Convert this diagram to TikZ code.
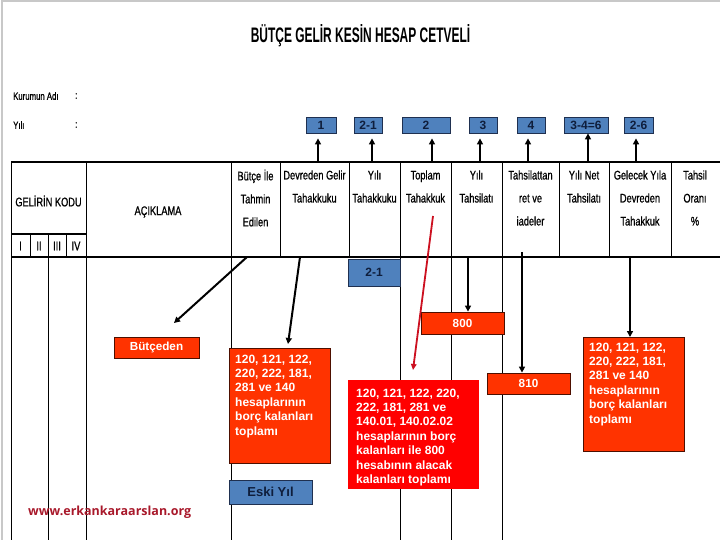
\documentclass[tikz,border=0pt]{standalone}
\usepackage{fontspec}
\setmainfont{Liberation Sans}
\newfontfamily\hdrfont[FakeStretch=0.74,FakeBold=0.8]{Liberation Sans}
\newfontfamily\ttlfont[FakeStretch=0.57]{Liberation Sans}
\newfontfamily\wmfont{Open Sans}
\usetikzlibrary{arrows.meta}
\definecolor{bluebox}{HTML}{4F81BD}
\definecolor{blueedge}{HTML}{1F3050}
\definecolor{orangebox}{HTML}{FF3300}
\definecolor{orangeedge}{HTML}{4D0F00}
\definecolor{redbox}{HTML}{FF0000}
\definecolor{navytext}{HTML}{0F1E3C}
\definecolor{wmred}{HTML}{A8182A}
\definecolor{arrred}{HTML}{CC1020}
\definecolor{framegray}{HTML}{C8C8C8}
\tikzset{
  hdr/.style={font=\hdrfont\fontsize{12.5}{23}\selectfont, align=center, inner sep=0pt},
  lbl/.style={font=\hdrfont\fontsize{10.5}{12}\selectfont, inner sep=0pt, anchor=west},
  bluetag/.style={draw=blueedge, fill=bluebox, line width=0.8pt, inner sep=0pt,
    font=\bfseries\fontsize{12}{14}\selectfont, text=navytext},
  orangetag/.style={draw=orangeedge, fill=orangebox, line width=0.8pt, inner sep=0pt,
    font=\bfseries\fontsize{11.7}{14}\selectfont, text=white},
  redpanel/.style={fill=redbox, inner sep=0pt},
  paneltext/.style={font=\bfseries\fontsize{12}{14.4}\selectfont, text=white, align=left,
    inner sep=0pt, anchor=north west},
  grid/.style={line width=0.9pt, black},
  thickgrid/.style={line width=1.8pt, black},
  arr/.style={line width=2pt, black, -{Triangle[length=6pt,width=6pt]}},
  redarr/.style={line width=1.8pt, arrred, -{Triangle[length=6pt,width=5.5pt]}}
}
\begin{document}
\begin{tikzpicture}[x=1pt,y=-1pt]
\useasboundingbox (0,0) rectangle (720,540);
% frame
\draw[framegray, line width=2pt] (1.5,540) -- (1.5,1) -- (720,1);
% title
\node[font=\ttlfont\bfseries\fontsize{21}{24}\selectfont, inner sep=0pt] (title) at (360.5,35.5) {BÜTÇE GELİR KESİN HESAP CETVELİ};
% institution labels
\node[lbl] (kurum) at (13,96) {Kurumun Adı};
\node[lbl] (kurumc) at (75,96) {:};
\node[lbl] (yil) at (13,125) {Yılı};
\node[lbl] (yilc) at (75,125) {:};
% top tags
\node[bluetag, minimum width=30pt, minimum height=16pt] (t1) at (321,125) {1};
\node[bluetag, minimum width=28pt, minimum height=16pt] (t21) at (368,125) {2-1};
\node[bluetag, minimum width=48pt, minimum height=16pt] (t2) at (426,125) {2};
\node[bluetag, minimum width=28pt, minimum height=16pt] (t3) at (483,125) {3};
\node[bluetag, minimum width=28pt, minimum height=16pt] (t4) at (531,125) {4};
\node[bluetag, minimum width=44pt, minimum height=16pt] (t6) at (586,125) {3-4=6};
\node[bluetag, minimum width=29pt, minimum height=16pt] (t26) at (638.5,125) {2-6};
% arrow start points on the table top
\coordinate (a1) at (318,162);
\coordinate (a21) at (372,162);
\coordinate (a2) at (432,162);
\coordinate (a3) at (480,162);
\coordinate (a4) at (528,162);
\coordinate (a6) at (588,162);
\coordinate (a26) at (636,162);
\draw[arr, shorten >=5pt] (a1) -- (a1 |- t1.south);
\draw[arr, shorten >=5pt] (a21) -- (a21 |- t21.south);
\draw[arr, shorten >=5pt] (a2) -- (a2 |- t2.south);
\draw[arr, shorten >=5pt] (a3) -- (a3 |- t3.south);
\draw[arr, shorten >=5pt] (a4) -- (a4 |- t4.south);
\draw[arr] (a6) -- (a6 |- t6.south);
\draw[arr, shorten >=5pt] (a26) -- (a26 |- t26.south);
% table grid
\draw[thickgrid] (11,162) -- (720,162);
\draw[thickgrid] (11,257) -- (720,257);
\draw[thickgrid] (11,234) -- (86,234);
\draw[grid] (11,162) -- (11,540);
\foreach \x in {86,231,280,349,400,451,502,559,609,671} \draw[grid] (\x,162) -- (\x,257);
\foreach \x in {48,86,231,400,451,502} \draw[grid] (\x,257) -- (\x,540);
\foreach \x in {30,48,66} \draw[grid] (\x,234) -- (\x,257);
% header texts
\node[hdr] (hkod) at (48.5,201) {GELİRİN KODU};
\node[hdr] (hack) at (158,212) {AÇIKLAMA};
\node[hdr] (hI) at (20.5,246) {I};
\node[hdr] (hII) at (39,246) {II};
\node[hdr] (hIII) at (57,246) {III};
\node[hdr] (hIV) at (76,246) {IV};
\node[hdr] (hbut) at (255.5,198) {Bütçe İle\\Tahmin\\Edilen};
\node[hdr] (hdev) at (314.5,186.5) {Devreden Gelir\\Tahakkuku};
\node[hdr] (hyt) at (374.5,186.5) {Yılı\\Tahakkuku};
\node[hdr] (htop) at (425.5,186.5) {Toplam\\Tahakkuk};
\node[hdr] (hyts) at (476.5,186.5) {Yılı\\Tahsilatı};
\node[hdr] (hret) at (530.5,198) {Tahsilattan\\ret ve\\iadeler};
\node[hdr] (hnet) at (584,186.5) {Yılı Net\\Tahsilatı};
\node[hdr] (hgel) at (640,198) {Gelecek Yıla\\Devreden\\Tahakkuk};
\node[hdr] (horan) at (695,198) {Tahsil\\Oranı\\\%};
% body tags
\node[bluetag, minimum width=52pt, minimum height=27pt] (b21) at (374,272.5) {2-1};
\node[orangetag, minimum width=85pt, minimum height=21pt] (butce) at (156.5,347.5) {Bütçeden};
\node[orangetag, minimum width=83pt, minimum height=22pt] (b800) at (462.5,323) {800};
\node[orangetag, minimum width=83pt, minimum height=21pt] (b810) at (528.5,383.5) {810};
\node[bluetag, minimum width=83pt, minimum height=24pt, font=\bfseries\fontsize{13}{15}\selectfont] (eski) at (270.5,492) {Eski Yıl};
% panels
\node[orangetag, minimum width=101pt, minimum height=115pt, anchor=north west] (lpanel) at (229,348) {};
\node[paneltext] (ltext) at (235,354.5) {120, 121, 122,\\220, 222, 181,\\281 ve 140\\hesaplarının\\borç kalanları\\toplamı};
\node[redpanel, minimum width=131pt, minimum height=109pt, anchor=north west] (mpanel) at (348,380) {};
\node[paneltext] (mtext) at (356,388.5) {120, 121, 122, 220,\\222, 181, 281 ve\\140.01, 140.02.02\\hesaplarının borç\\kalanları ile 800\\hesabının alacak\\kalanları toplamı};
\node[orangetag, minimum width=101pt, minimum height=114pt, anchor=north west] (rpanel) at (583,337) {};
\node[paneltext] (rtext) at (589,342.5) {120, 121, 122,\\220, 222, 181,\\281 ve 140\\hesaplarının\\borç kalanları\\toplamı};
% body arrows
\coordinate (s1) at (247,257);
\coordinate (e1) at (174,323);
\draw[arr] (s1) -- (e1);
\coordinate (s2) at (300,257);
\coordinate (e2) at (288,344);
\draw[arr] (s2) -- (e2);
\coordinate (s3) at (433,216);
\coordinate (e3) at (413,370);
\draw[redarr] (s3) -- (e3);
\coordinate (s4) at (468,257);
\draw[arr] (s4) -- (s4 |- b800.north);
\coordinate (s5) at (522,252);
\draw[arr] (s5) -- (s5 |- b810.north);
\coordinate (s6) at (630,257);
\draw[arr] (s6) -- (s6 |- rpanel.north);
% watermark
\node[font=\wmfont\bfseries\fontsize{12.5}{14}\selectfont, text=wmred, inner sep=0pt, anchor=west] (wm) at (28,512) {www.erkankaraarslan.org};
\end{tikzpicture}
\end{document}
